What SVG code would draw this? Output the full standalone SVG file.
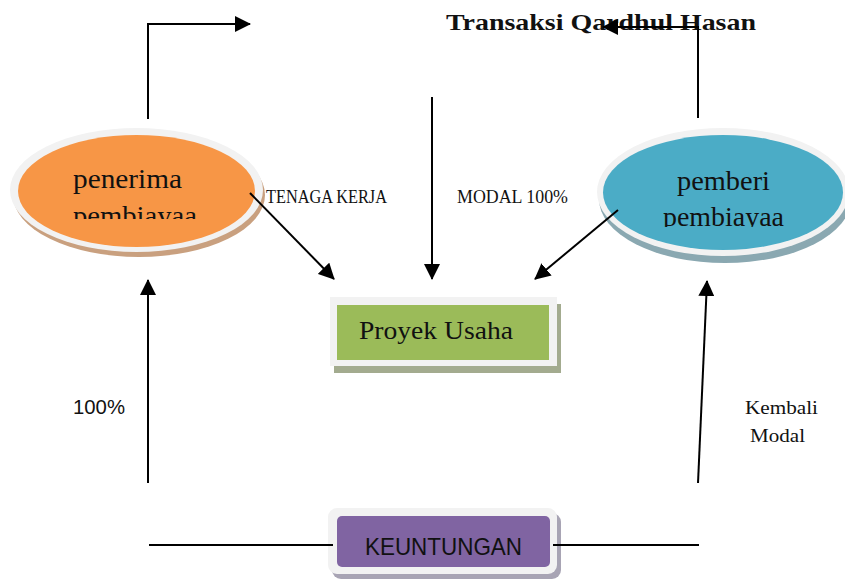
<svg xmlns="http://www.w3.org/2000/svg" width="845" height="579" viewBox="0 0 845 579">
<style>
.serif{font-family:"Liberation Serif","DejaVu Serif",serif;fill:#111}
.sans{font-family:"Liberation Sans","DejaVu Sans",sans-serif;fill:#111}
.border{fill:#F2F2F2}
.conn{stroke:#000;stroke-width:2;fill:none}
</style>
<defs>
<marker id="ah" viewBox="0 0 16 16" refX="15" refY="8" markerWidth="16" markerHeight="16" markerUnits="userSpaceOnUse" orient="auto">
<path d="M0,0 L16,8 L0,16 z" fill="#000"/>
</marker>
<clipPath id="clipL"><rect x="0" y="150" width="300" height="69"/></clipPath>
<clipPath id="clipR"><rect x="590" y="150" width="255" height="77"/></clipPath>
</defs>
<rect width="845" height="579" fill="#fff"/>

<text id="title" class="serif" x="446" y="30" font-size="24" font-weight="bold" textLength="310" lengthAdjust="spacingAndGlyphs">Transaksi Qardhul Hasan</text>

<g id="penerima">
<ellipse cx="139" cy="195" rx="126" ry="62" fill="#C9A07F"/>
<ellipse class="border" cx="136.5" cy="190" rx="126.5" ry="62"/>
<ellipse cx="136.5" cy="191" rx="118.5" ry="56" fill="#F79646"/>
<g clip-path="url(#clipL)">
<text class="serif" x="73" y="188" font-size="27" textLength="109" lengthAdjust="spacingAndGlyphs">penerima</text>
<text class="serif" x="73" y="225" font-size="27" textLength="124" lengthAdjust="spacingAndGlyphs">pembiayaa</text>
</g>
</g>

<g id="pemberi">
<ellipse cx="725" cy="199" rx="126" ry="64" fill="#8AA8B1"/>
<ellipse class="border" cx="723" cy="192" rx="126" ry="64"/>
<ellipse cx="723" cy="192.5" rx="120" ry="57.5" fill="#4BACC6"/>
<g clip-path="url(#clipR)">
<text class="serif" x="677" y="190" font-size="27" textLength="93" lengthAdjust="spacingAndGlyphs">pemberi</text>
<text class="serif" x="663" y="226" font-size="27" textLength="121" lengthAdjust="spacingAndGlyphs">pembiayaa</text>
</g>
</g>

<g id="proyek">
<rect x="334" y="304" width="227" height="69" fill="#A3AB8F"/>
<rect class="border" x="330" y="297" width="227" height="69"/>
<rect x="337" y="305" width="212" height="55" fill="#9BBB59"/>
<text class="serif" x="359" y="339" font-size="25" textLength="154" lengthAdjust="spacingAndGlyphs">Proyek Usaha</text>
</g>

<g id="keuntungan">
<rect x="332" y="513" width="229" height="66" rx="9" fill="#A8A4B4"/>
<rect class="border" x="328" y="508" width="229" height="66" rx="9"/>
<rect x="337" y="516" width="213" height="51" rx="5" fill="#8064A2"/>
<text class="sans" x="365" y="555" font-size="24" textLength="157" lengthAdjust="spacingAndGlyphs">KEUNTUNGAN</text>
</g>

<g id="labels">
<text class="serif" x="266" y="203" font-size="18" textLength="121" lengthAdjust="spacingAndGlyphs">TENAGA KERJA</text>
<text class="serif" x="457" y="203" font-size="18" textLength="111" lengthAdjust="spacingAndGlyphs">MODAL 100%</text>
<text class="sans" x="73" y="414" font-size="20" textLength="52" lengthAdjust="spacingAndGlyphs">100%</text>
<text class="serif" x="745" y="414" font-size="19" textLength="73" lengthAdjust="spacingAndGlyphs">Kembali</text>
<text class="serif" x="750" y="442" font-size="19" textLength="55" lengthAdjust="spacingAndGlyphs">Modal</text>
</g>

<g id="connectors">
<polyline class="conn" points="148,119 148,24 250,24" marker-end="url(#ah)"/>
<polyline class="conn" points="698,118 698,27 603,27" marker-end="url(#ah)"/>
<line class="conn" x1="250" y1="193" x2="334" y2="279" marker-end="url(#ah)"/>
<line class="conn" x1="432" y1="97" x2="432" y2="279" marker-end="url(#ah)"/>
<line class="conn" x1="618" y1="210" x2="535" y2="279" marker-end="url(#ah)"/>
<line class="conn" x1="148" y1="483" x2="148" y2="280" marker-end="url(#ah)"/>
<line class="conn" x1="698" y1="483" x2="707" y2="281" marker-end="url(#ah)"/>
<line class="conn" x1="149" y1="545" x2="333" y2="545"/>
<line class="conn" x1="553" y1="545" x2="699" y2="545"/>
</g>
</svg>
